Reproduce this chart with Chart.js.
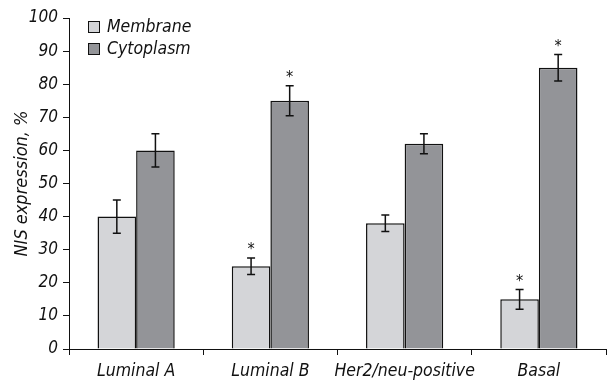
<!DOCTYPE html>
<html><head><meta charset="utf-8">
<script src="https://cdn.jsdelivr.net/npm/chart.js@4/dist/chart.umd.min.js"></script>
<style>html,body{margin:0;padding:0;background:#fff}#c{display:block}</style>
</head><body>
<canvas id="c" width="612" height="380"></canvas>
<script>
const categories = ["Luminal A", "Luminal B", "Her2/neu-positive", "Basal"];
const membrane = [40, 25, 38, 15];
const cytoplasm = [60, 75, 62, 85];
const membraneErr = [5, 2.5, 2.5, 3];
const cytoplasmErr = [5, 4.5, 3, 4];
const membraneSig = [false, true, false, true];
const cytoplasmSig = [false, true, false, true];
const yTicks = [0, 10, 20, 30, 40, 50, 60, 70, 80, 90, 100];

const FONT = '"DejaVu Sans Condensed", "Liberation Sans", sans-serif';

const extras = {
  id: 'extras',
  afterDatasetsDraw(chart) {
    const ctx = chart.ctx;
    const y = chart.scales.y;
    const errs = [membraneErr, cytoplasmErr];
    const sigs = [membraneSig, cytoplasmSig];
    ctx.save();
    ctx.strokeStyle = '#111';
    ctx.fillStyle = '#111';
    ctx.lineWidth = 1.5;
    chart.data.datasets.forEach((ds, di) => {
      const meta = chart.getDatasetMeta(di);
      meta.data.forEach((bar, i) => {
        const v = ds.data[i], e = errs[di][i];
        const x = bar.x;
        const yt = y.getPixelForValue(v + e), yb = y.getPixelForValue(v - e);
        ctx.beginPath();
        ctx.moveTo(x, yt); ctx.lineTo(x, yb);
        ctx.moveTo(x - 4, yt); ctx.lineTo(x + 4, yt);
        ctx.moveTo(x - 4, yb); ctx.lineTo(x + 4, yb);
        ctx.stroke();
        if (sigs[di][i]) {
          ctx.font = '16px ' + FONT;
          ctx.textAlign = 'center';
          ctx.textBaseline = 'middle';
          ctx.fillText('*', x, yt - 8);
        }
      });
    });
    // legend
    ctx.font = 'italic 17.5px ' + FONT;
    ctx.textAlign = 'left';
    ctx.textBaseline = 'middle';
    chart.data.datasets.forEach((ds, di) => {
      const ly = 27 + di * 22;
      ctx.fillStyle = ds.backgroundColor;
      ctx.fillRect(88, ly - 6, 12, 12);
      ctx.lineWidth = 1;
      ctx.strokeStyle = '#111';
      ctx.strokeRect(88.5, ly - 5.5, 11, 11);
      ctx.fillStyle = '#111';
      ctx.fillText(ds.label, 107, ly);
    });
    ctx.restore();
  }
};

new Chart(document.getElementById('c'), {
  type: 'bar',
  data: {
    labels: categories,
    datasets: [
      { label: 'Membrane', data: membrane, backgroundColor: '#d4d5d8', borderColor: '#111', borderWidth: 1.5, borderSkipped: 'bottom' },
      { label: 'Cytoplasm', data: cytoplasm, backgroundColor: '#939498', borderColor: '#111', borderWidth: 1.5, borderSkipped: 'bottom' }
    ]
  },
  options: {
    responsive: false,
    animation: false,
    layout: { padding: { top: 18, right: 6, left: 0, bottom: 0 } },
    plugins: { legend: { display: false }, tooltip: { enabled: false } },
    datasets: { bar: { categoryPercentage: 0.575, barPercentage: 1 } },
    scales: {
      x: {
        grid: { display: true, drawOnChartArea: false, offset: true, tickLength: 6, color: '#111', lineWidth: 1 },
        border: { display: true, color: '#111', width: 1 },
        ticks: { color: '#111', font: { family: FONT, size: 17.5, style: 'italic' }, padding: 6, maxRotation: 0, autoSkip: false },
        afterFit(s) { s.height = 31; }
      },
      y: {
        min: 0, max: 100,
        afterBuildTicks(s) { s.ticks = yTicks.map(v => ({ value: v })); },
        grid: { display: true, drawOnChartArea: false, tickLength: 6, color: '#111', lineWidth: 1 },
        border: { display: true, color: '#111', width: 1 },
        ticks: { color: '#111', font: { family: FONT, size: 17, style: 'italic' }, padding: 5 },
        title: { display: true, text: 'NIS expression, %', color: '#111', font: { family: FONT, size: 18, style: 'italic' }, padding: { top: 12, bottom: 0 } },
        afterFit(s) { s.width = 69; }
      }
    }
  },
  plugins: [extras]
});
</script>
</body></html>
